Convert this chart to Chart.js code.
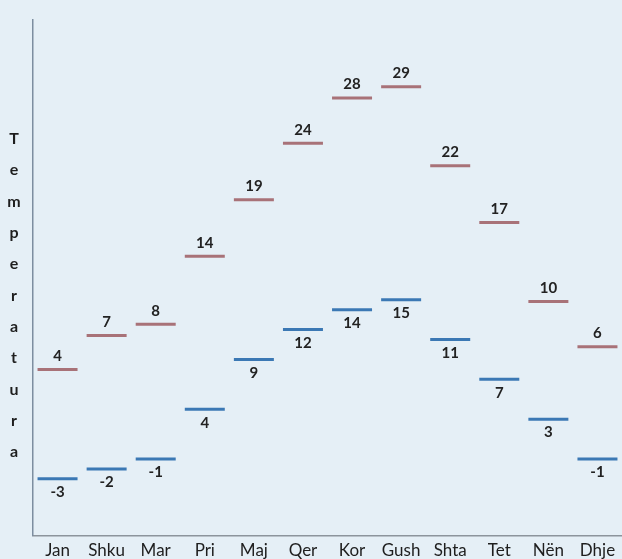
<!DOCTYPE html>
<html>
<head>
<meta charset="utf-8">
<script src="https://cdn.jsdelivr.net/npm/chart.js@4.4.1/dist/chart.umd.min.js"></script>
<style>
  html, body { margin: 0; padding: 0; background: #e5eff6; }
  #wrap { width: 622px; height: 559px; }
</style>
</head>
<body>
<div id="wrap"><canvas id="tempChart" width="622" height="559"></canvas></div>
<script>
// month labels and temperatures (max / min)
const months = ["Jan", "Shku", "Mar", "Pri", "Maj", "Qer", "Kor", "Gush", "Shta", "Tet", "Nën", "Dhje"];
const maxTemps = [4, 7, 8, 14, 19, 24, 28, 29, 22, 17, 10, 6];
const minTemps = [-3, -2, -1, 4, 9, 12, 14, 15, 11, 7, 3, -1];
const axisTitle = "Temperatura";

const FONT = "Lato, 'Open Sans', sans-serif";

// paint the paper colour behind everything
const bgPlugin = {
  id: "bg",
  beforeDraw(chart) {
    const c = chart.ctx;
    c.save();
    c.fillStyle = "#e5eff6";
    c.fillRect(0, 0, chart.width, chart.height);
    c.restore();
  }
};

// value labels: above the max marks, below the min marks
const valueLabels = {
  id: "valueLabels",
  afterDatasetsDraw(chart) {
    const c = chart.ctx;
    c.save();
    c.font = "bold 15px " + FONT;
    c.fillStyle = "#222";
    c.textAlign = "center";
    chart.data.datasets.forEach((ds, i) => {
      const meta = chart.getDatasetMeta(i);
      meta.data.forEach((pt, j) => {
        const above = ds.label === "max";
        c.textBaseline = above ? "bottom" : "top";
        c.fillText(String(ds.data[j]), pt.x, above ? pt.y - 6 : pt.y + 6);
      });
    });
    c.restore();
  }
};

// stacked letters for the y axis title
const stackedTitle = {
  id: "stackedTitle",
  afterDraw(chart) {
    const c = chart.ctx;
    c.save();
    c.font = "bold 16px " + FONT;
    c.fillStyle = "#1e1e1e";
    c.textAlign = "center";
    c.textBaseline = "middle";
    const letters = axisTitle.split("");
    letters.forEach((ch, k) => {
      c.fillText(ch, 14, 139 + k * 31.3);
    });
    c.restore();
  }
};

new Chart(document.getElementById("tempChart").getContext("2d"), {
  type: "line",
  data: {
    labels: months,
    datasets: [
      {
        label: "max",
        data: maxTemps,
        yAxisID: "yMax",
        showLine: false,
        pointStyle: "line",
        pointRadius: 20,
        pointHoverRadius: 20,
        pointBorderWidth: 3,
        pointBorderColor: "#a87278",
        pointBackgroundColor: "#a87278",
      },
      {
        label: "min",
        data: minTemps,
        yAxisID: "yMin",
        showLine: false,
        pointStyle: "line",
        pointRadius: 20,
        pointHoverRadius: 20,
        pointBorderWidth: 3,
        pointBorderColor: "#3b78b4",
        pointBackgroundColor: "#3b78b4",
      },
    ],
  },
  options: {
    responsive: false,
    animation: false,
    layout: { autoPadding: false, padding: { top: 20, left: 33, right: 0, bottom: -7 } },
    plugins: {
      legend: { display: false },
      tooltip: { enabled: false },
    },
    scales: {
      x: {
        offset: true,
        grid: { display: false, drawTicks: false },
        border: { display: true, color: "#8c949c", width: 1.5 },
        ticks: { color: "#1e1e1e", font: { family: FONT, size: 17 }, padding: 5 },
      },
      yMax: {
        position: "left",
        min: -10.7,
        max: 34.9,
        ticks: { display: false },
        grid: { display: false, drawTicks: false },
        border: { display: true, color: "#7d8ea0", width: 1.5 },
      },
      yMin: {
        display: false,
        position: "left",
        min: -8.7,
        max: 43.1,
      },
    },
  },
  plugins: [bgPlugin, valueLabels, stackedTitle],
});
</script>
</body>
</html>
